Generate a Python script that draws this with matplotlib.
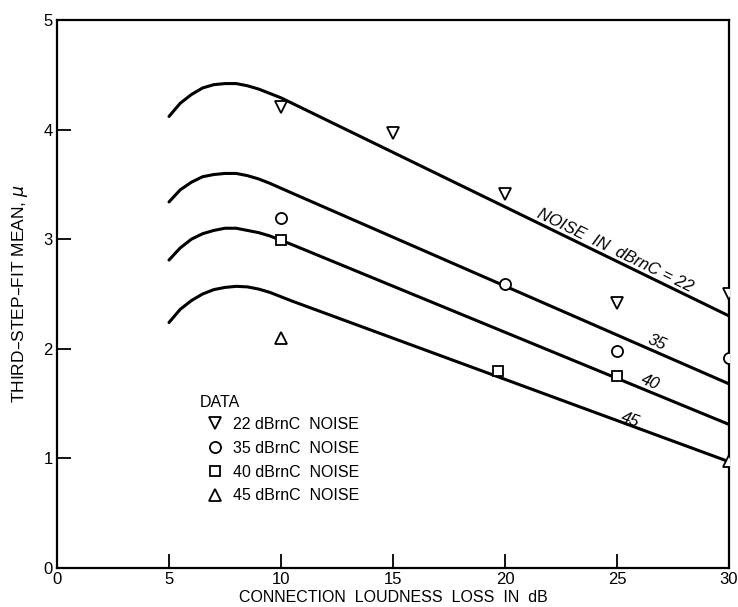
import matplotlib
matplotlib.use("Agg")
import matplotlib.pyplot as plt

plt.rcParams['font.family'] = ['Liberation Sans', 'DejaVu Sans']

# Fitted curves (x in dB, y = mean)
curve_x = [5.0, 5.5, 6.0, 6.5, 7.0, 7.5, 8.0, 8.5, 9.0, 9.5, 10.0, 10.5, 30.0]
curve_22 = [4.12, 4.24, 4.32, 4.38, 4.41, 4.42, 4.42, 4.40, 4.37, 4.33, 4.29, 4.24, 2.30]
curve_35 = [3.34, 3.45, 3.52, 3.57, 3.59, 3.60, 3.60, 3.58, 3.55, 3.51, 3.465, 3.42, 1.68]
curve_40 = [2.81, 2.92, 3.00, 3.05, 3.08, 3.10, 3.10, 3.08, 3.06, 3.03, 2.99, 2.95, 1.31]
curve_45 = [2.24, 2.36, 2.44, 2.50, 2.54, 2.56, 2.57, 2.565, 2.545, 2.515, 2.475, 2.435, 0.97]

# Data points
data22_x = [10, 15, 20, 25, 30]
data22_y = [4.21, 3.97, 3.41, 2.42, 2.50]
data35_x = [10, 20, 25, 30]
data35_y = [3.19, 2.59, 1.98, 1.92]
data40_x = [10, 19.7, 25]
data40_y = [2.99, 1.80, 1.75]
data45_x = [10, 30]
data45_y = [2.10, 0.98]

legend_title = "DATA"
legend_labels = ["22 dBrnC  NOISE", "35 dBrnC  NOISE", "40 dBrnC  NOISE", "45 dBrnC  NOISE"]
curve_labels = ["NOISE  IN  dBrnC = 22", "35", "40", "45"]

fig = plt.figure(figsize=(7.38, 6.07), dpi=100)
ax = fig.add_axes([57/738, 39/607, (729-57)/738, (568-20)/607])

for cy in [curve_22, curve_35, curve_40, curve_45]:
    ax.plot(curve_x, cy, color='black', lw=2.2, solid_capstyle='round', zorder=2)

mk = dict(linestyle='none', markerfacecolor='white', markeredgecolor='black',
          markeredgewidth=1.3, color='black', zorder=3)
h1, = ax.plot(data22_x, data22_y, marker='v', markersize=9, **mk)
h2, = ax.plot(data35_x, data35_y, marker='o', markersize=8, **mk)
h3, = ax.plot(data40_x, data40_y, marker='s', markersize=7.5, **mk)
h4, = ax.plot(data45_x, data45_y, marker='^', markersize=9, **mk)

ax.set_xlim(0, 30)
ax.set_ylim(0, 5)
ax.set_xticks([0, 5, 10, 15, 20, 25, 30])
ax.set_yticks([0, 1, 2, 3, 4, 5])
ax.tick_params(direction='in', length=10, width=1.3, labelsize=12, pad=3)
for s in ax.spines.values():
    s.set_linewidth(1.6)

ax.set_xlabel("CONNECTION  LOUDNESS  LOSS  IN  dB", fontsize=11.5)
ax.xaxis.set_label_coords(0.5, -0.040)
ax.set_ylabel("THIRD\u2013STEP\u2013FIT MEAN, $\\mu$", fontsize=12.5, labelpad=10)

# curve labels
ax.text(24.9, 2.90, curve_labels[0], rotation=-26, fontsize=12, style='italic',
        ha='center', va='center', rotation_mode='anchor')
ax.text(26.8, 2.06, curve_labels[1], rotation=-23, fontsize=12, style='italic',
        ha='center', va='center', rotation_mode='anchor')
ax.text(26.5, 1.69, curve_labels[2], rotation=-22, fontsize=12, style='italic',
        ha='center', va='center', rotation_mode='anchor')
ax.text(25.6, 1.35, curve_labels[3], rotation=-20, fontsize=12, style='italic',
        ha='center', va='center', rotation_mode='anchor')

ax.text(6.38, 1.51, legend_title, fontsize=11.5, ha='left', va='center')
leg = ax.legend([h1, h2, h3, h4], legend_labels, frameon=False,
                loc='upper left', bbox_to_anchor=(0.212, 0.290),
                fontsize=11.5, handlelength=1.0, handletextpad=0.6,
                labelspacing=0.55, borderpad=0.0)

fig.savefig("out.png", dpi=100)
